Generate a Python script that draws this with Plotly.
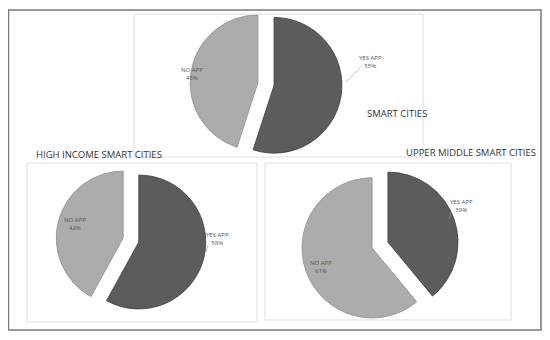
import plotly.graph_objects as go

# ---- data ----
labels = ["YES APP", "NO APP"]
smart_cities = [55, 45]
high_income = [58, 42]
upper_middle = [39, 61]
titles = ["SMART CITIES", "HIGH INCOME SMART CITIES", "UPPER MIDDLE SMART CITIES"]

W, H = 550, 340
OFF = 8  # page body margin
colors = ["#5c5c5c", "#acacac"]


def px(x):
    return min(max((x - OFF) / W, 0), 1)


def py(y):
    return min(max(1 - (y - OFF) / H, 0), 1)


def dom(cx, cy, d):
    return dict(x=[px(cx - d / 2), px(cx + d / 2)], y=[py(cy + d / 2), py(cy - d / 2)])


fig = go.Figure()
pies = [
    (smart_cities, (266, 84, 152)),
    (high_income, (131, 240, 150)),
    (upper_middle, (380, 245, 157)),
]
for vals, (cx, cy, d) in pies:
    fig.add_trace(go.Pie(
        labels=labels, values=vals, sort=False, direction="clockwise", rotation=0,
        pull=[0.12, 0.12], textinfo="none", hoverinfo="label+percent",
        marker=dict(colors=colors, line=dict(color=["#3e3e3e", "#8e8e8e"], width=0.8)),
        domain=dom(cx, cy, d), showlegend=False,
    ))

shapes = []
# outer frame
shapes.append(dict(type="rect", xref="paper", yref="paper", x0=px(8.5), x1=px(541), y0=py(330), y1=py(10),
                   line=dict(color="#7a7a7a", width=1.5)))
# chart boxes
for x0, y0, x1, y1 in [(134, 14, 423, 157), (27, 163, 257, 322), (265, 163, 511, 320)]:
    shapes.append(dict(type="rect", xref="paper", yref="paper", x0=px(x0), x1=px(x1), y0=py(y1), y1=py(y0),
                       line=dict(color="#dedede", width=1)))
# leader lines
for x0, y0, x1, y1 in [(360, 68, 346, 82), (208, 245, 206, 252), (451, 212, 449, 219)]:
    shapes.append(dict(type="line", xref="paper", yref="paper", x0=px(x0), x1=px(x1), y0=py(y0), y1=py(y1),
                       line=dict(color="#999999", width=0.6)))

annotations = []
for t, (x, y) in zip(titles, [(397, 113), (99, 154), (471, 152)]):
    annotations.append(dict(text=t, x=px(x), y=py(y), xref="paper", yref="paper", showarrow=False,
                            xanchor="center", yanchor="middle",
                            font=dict(family="Open Sans", size=9.5, color="#333333")))

label_pos = [
    (smart_cities, [(370, 62), (192, 74)]),
    (high_income, [(217, 239), (75, 224)]),
    (upper_middle, [(461, 206), (321, 267)]),
]
for vals, poss in label_pos:
    for lab, v, (x, y) in zip(labels, vals, poss):
        annotations.append(dict(text=f"{lab}<br>{v}%", x=px(x), y=py(y), xref="paper", yref="paper",
                                showarrow=False, xanchor="center", yanchor="middle",
                                font=dict(family="Open Sans", size=6, color="#555555")))

fig.update_layout(width=W, height=H, margin=dict(l=0, r=0, t=0, b=0),
                  paper_bgcolor="white", plot_bgcolor="white",
                  shapes=shapes, annotations=annotations)
fig.write_html("out.html")
